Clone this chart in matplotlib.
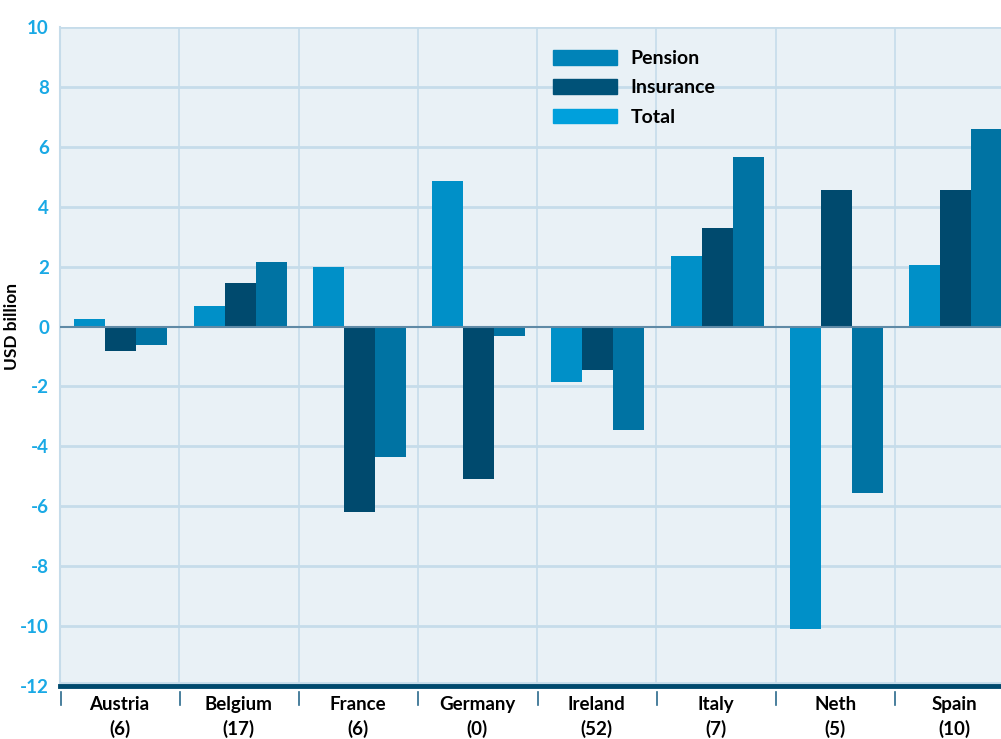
import matplotlib
matplotlib.use("Agg")
import matplotlib.pyplot as plt
from matplotlib.patches import Patch
import numpy as np

countries = ["Austria\n(6)", "Belgium\n(17)", "France\n(6)", "Germany\n(0)",
             "Ireland\n(52)", "Italy\n(7)", "Neth\n(5)", "Spain\n(10)"]
pension = [0.25, 0.7, 2.0, 4.85, -1.85, 2.35, -10.1, 2.05]
insurance = [-0.8, 1.45, -6.2, -5.1, -1.45, 3.3, 4.55, 4.55]
total = [-0.6, 2.15, -4.35, -0.3, -3.45, 5.65, -5.55, 6.6]
yticks = [10, 8, 6, 4, 2, 0, -2, -4, -6, -8, -10, -12]

plt.rcParams['font.family'] = ['Lato', 'DejaVu Sans']

fig = plt.figure(figsize=(10.01, 7.39), dpi=100)
W, H = 1001, 739
ax = fig.add_axes([60 / W, (H - 686) / H, 954 / W, (686 - 27) / H])
ax.set_facecolor("#e9f1f6")

x = np.arange(len(countries)) + 0.5
bw = 0.26
off = 0.01
c_p, c_i, c_t = "#0090c8", "#004a6e", "#0073a3"
ax.bar(x - bw + off, pension, bw, color=c_p, zorder=3)
ax.bar(x + off, insurance, bw, color=c_i, zorder=3)
ax.bar(x + bw + off, total, bw, color=c_t, zorder=3)

ax.set_xlim(0, 8)
ax.set_ylim(-12, 10)
ax.set_yticks(yticks)
ax.set_yticklabels([str(v) for v in yticks], color="#19a9e5", fontweight="bold", fontsize=13.5)
ax.tick_params(axis="y", length=0, pad=8)

ax.set_xticks(np.arange(0, 9))
ax.set_xticklabels([])
ax.tick_params(axis="x", length=0)
ax.set_xticks(x, minor=True)
ax.set_xticklabels(countries, minor=True, fontweight="bold", fontsize=13.5, linespacing=1.45)
ax.tick_params(axis="x", which="minor", length=0, pad=7)

for v in yticks[:-1]:
    if v != 0:
        ax.axhline(v, color="#c6dcea", lw=2, zorder=1)
for b in range(0, 9):
    ax.axvline(b, color="#c6dcea", lw=1.2, zorder=1)
ax.axhline(0, color="#5f8aa6", lw=1.5, zorder=4)
ax.axhline(-11.9, color="#c6dcea", lw=2, zorder=2)

for s in ["top", "right"]:
    ax.spines[s].set_visible(False)
ax.spines["left"].set_color("#c6dcea")
ax.spines["left"].set_linewidth(1.5)
ax.spines["bottom"].set_color("#004a6e")
ax.spines["bottom"].set_linewidth(3.5)

# boundary tick marks below axis
for b in range(0, 9):
    ax.plot([b + 0.005, b + 0.005], [-12.2, -12.65], color="#2a6a8c", lw=1.2,
            clip_on=False, zorder=5)

ax.set_ylabel("USD billion", fontweight="bold", fontsize=12.5)
ax.yaxis.set_label_coords(-40 / 954, (686 - 326) / 659)

handles = [Patch(color="#0083b8"), Patch(color="#005278"), Patch(color="#00a0dc")]
leg = ax.legend(handles, ["Pension", "Insurance", "Total"], loc="upper left",
                bbox_to_anchor=(493 / 954, (686 - 50) / 659), frameon=False,
                borderaxespad=0, borderpad=0,
                handlelength=3.3, handleheight=0.8, handletextpad=0.7,
                labelspacing=0.62, prop={"weight": "bold", "size": 14})

fig.savefig("out.png", dpi=100)
